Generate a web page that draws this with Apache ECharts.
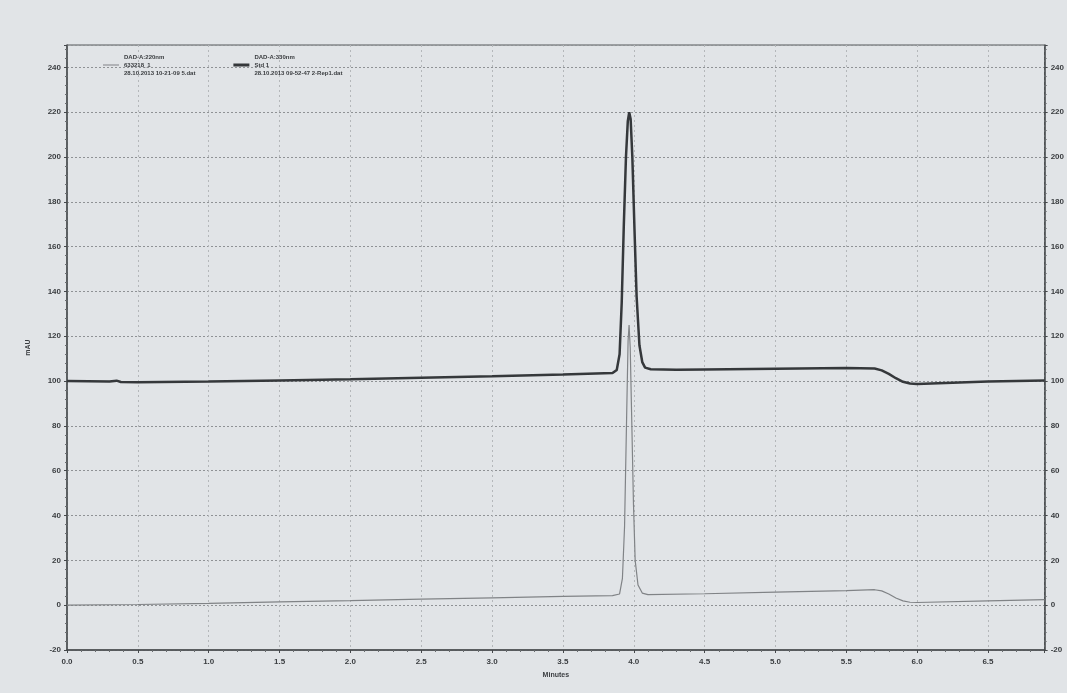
<!DOCTYPE html>
<html lang="en">
  <head>
    <meta charset="UTF-8" />
    <title>Chromatogram</title>
    <script src="https://cdn.jsdelivr.net/npm/echarts@6.0.0/dist/echarts.min.js"></script>
    <style>
      body { margin: 0; background: #e1e4e7; }
    </style>
  </head>
  <body>
    <div id="main" style="width: 1067px; height: 693px"></div>
    <script type="text/javascript">
      // legend text (three lines per trace)
      const legendSample = ["DAD-A:220nm", "633218_1", "28.10.2013 10-21-09 5.dat"];
      const legendStd = ["DAD-A:330nm", "Std 1", "28.10.2013 09-52-47 2-Rep1.dat"];

      // [minutes, mAU]
      const sampleTrace = [
        [0.0, 0.0], [0.5, 0.3], [1.0, 0.8], [1.5, 1.5], [2.0, 2.0], [2.5, 2.7],
        [3.0, 3.3], [3.5, 3.9], [3.85, 4.3], [3.9, 5], [3.92, 12], [3.935, 35],
        [3.95, 85], [3.96, 118], [3.967, 125], [3.975, 115], [3.985, 85], [3.998, 45],
        [4.01, 20], [4.03, 9], [4.06, 5.4], [4.1, 4.7], [4.5, 5.1], [5.0, 5.8],
        [5.5, 6.5], [5.7, 6.9], [5.75, 6.4], [5.8, 5.0], [5.85, 3.2], [5.9, 1.9],
        [5.95, 1.3], [6.0, 1.2], [6.5, 1.9], [6.9, 2.5]
      ];
      const stdTrace = [
        [0.0, 100], [0.3, 99.8], [0.35, 100.2], [0.38, 99.6], [0.5, 99.5], [1.0, 99.8],
        [1.5, 100.3], [2.0, 100.8], [2.5, 101.5], [3.0, 102.2], [3.5, 103], [3.85, 103.6],
        [3.88, 105], [3.9, 112], [3.915, 135], [3.93, 170], [3.945, 200], [3.958, 216],
        [3.968, 220], [3.978, 217], [3.99, 200], [4.005, 168], [4.02, 138], [4.04, 116],
        [4.06, 108.5], [4.08, 106], [4.12, 105.3], [4.3, 105.1], [4.5, 105.2], [5.0, 105.5],
        [5.5, 105.8], [5.7, 105.6], [5.75, 104.8], [5.8, 103.2], [5.85, 101.3], [5.9, 99.7],
        [5.95, 98.9], [6.0, 98.7], [6.2, 99.2], [6.5, 99.8], [6.9, 100.3]
      ];

      const xTicks = { min: 0, max: 6.9, step: 0.5 };
      const yTicks = { min: -20, max: 250, step: 20 };

      const labelStyle = {
        color: "#3a3d40",
        fontSize: 8,
        fontWeight: "bold",
        fontFamily: "Liberation Sans",
      };

      function yAxisFor(pos) {
        return {
          type: "value",
          position: pos,
          min: yTicks.min,
          max: yTicks.max,
          interval: yTicks.step,
          name: pos === "left" ? "mAU" : "",
          nameLocation: "middle",
          nameGap: 35,
          nameTextStyle: Object.assign({}, labelStyle, { fontSize: 7 }),
          axisLine: { show: true, lineStyle: { color: "#45484b", width: 1.5 } },
          axisTick: { show: true, length: 3, lineStyle: { color: "#45484b" } },
          minorTick: { show: true, splitNumber: 5, length: 2, lineStyle: { color: "#6a6d70" } },
          axisLabel: Object.assign({}, labelStyle, {
            margin: 6,
            showMaxLabel: false,
          }),
          splitLine: {
            show: pos === "left",
            lineStyle: { color: "#8f9295", type: [2, 2], width: 1 },
          },
        };
      }

      const myChart = echarts.init(document.getElementById("main"));
      myChart.setOption({
        backgroundColor: "#e1e4e7",
        animation: false,
        grid: { left: 67, right: 22, top: 45, bottom: 43, show: true, borderColor: "#55585b", borderWidth: 1 },
        legend: {
          left: 98,
          top: 48,
          itemGap: 38,
          itemWidth: 16,
          itemHeight: 8,
          textStyle: Object.assign({}, labelStyle, { fontSize: 6, lineHeight: 8 }),
          data: [
            { name: "sample", icon: "path://M0,4 L16,4 L16,5 L0,5 Z" },
            { name: "std", icon: "path://M0,3 L16,3 L16,6 L0,6 Z" },
          ],
          formatter: (n) => (n === "sample" ? legendSample : legendStd).join("\n"),
        },
        xAxis: {
          type: "value",
          min: xTicks.min,
          max: xTicks.max,
          interval: xTicks.step,
          name: "Minutes",
          nameLocation: "middle",
          nameGap: 22,
          nameTextStyle: Object.assign({}, labelStyle, { fontSize: 7 }),
          axisLine: { show: true, onZero: false, lineStyle: { color: "#45484b", width: 1.5 } },
          axisTick: { show: true, length: 3, lineStyle: { color: "#45484b" } },
          minorTick: { show: true, splitNumber: 5, length: 2, lineStyle: { color: "#6a6d70" } },
          axisLabel: Object.assign({}, labelStyle, {
            margin: 8,
            showMaxLabel: false,
            formatter: (v) => v.toFixed(1),
          }),
          splitLine: { show: true, lineStyle: { color: "#b4b7ba", type: [2, 3], width: 1 } },
        },
        yAxis: [yAxisFor("left"), yAxisFor("right")],
        series: [
          {
            name: "sample",
            type: "line",
            data: sampleTrace,
            showSymbol: false,
            lineStyle: { color: "#808386", width: 1.2 },
            itemStyle: { color: "#808386" },
          },
          {
            name: "std",
            type: "line",
            data: stdTrace,
            showSymbol: false,
            lineStyle: { color: "#35383b", width: 2.5 },
            itemStyle: { color: "#35383b" },
          },
        ],
      });
    </script>
  </body>
</html>
